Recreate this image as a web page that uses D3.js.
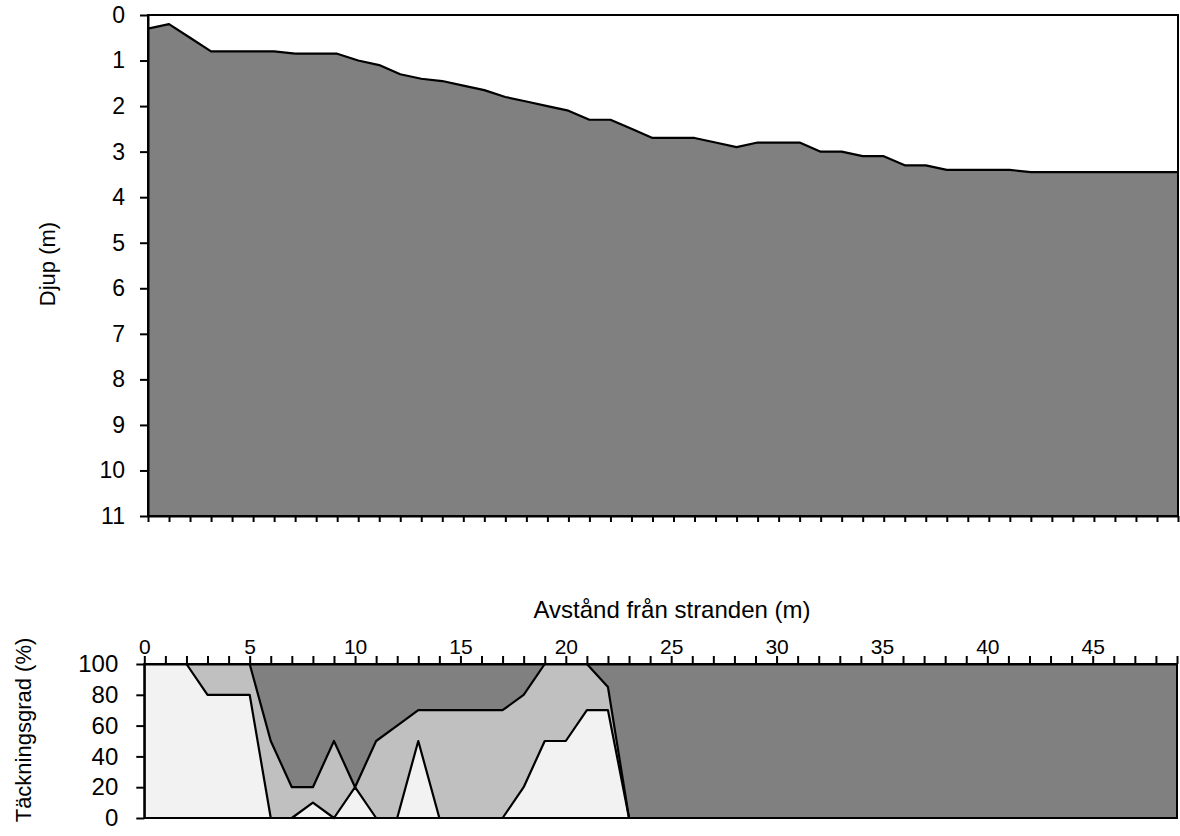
<!DOCTYPE html>
<html>
<head>
<meta charset="utf-8">
<script src="https://cdn.jsdelivr.net/npm/d3@7"></script>
<style>
    body { margin: 0; background: #fff; }
    svg { display: block; font-family: "Liberation Sans", Arial, sans-serif; }
</style>
</head>
<body>
<svg id="chart"></svg>
<script>
// distance from shore (m), one category per metre
const distance = [0, 1, 2, 3, 4, 5, 6, 7, 8, 9, 10, 11, 12, 13, 14, 15, 16, 17, 18, 19,
    20, 21, 22, 23, 24, 25, 26, 27, 28, 29, 30, 31, 32, 33, 34, 35, 36, 37, 38, 39,
    40, 41, 42, 43, 44, 45, 46, 47, 48, 49];

// depth (m) along the transect
const depth = [0.3, 0.2, 0.5, 0.8, 0.8, 0.8, 0.8, 0.85, 0.85, 0.85,
    1.0, 1.1, 1.3, 1.4, 1.45, 1.55, 1.65, 1.8, 1.9, 2.0,
    2.1, 2.3, 2.3, 2.5, 2.7, 2.7, 2.7, 2.8, 2.9, 2.8,
    2.8, 2.8, 3.0, 3.0, 3.1, 3.1, 3.3, 3.3, 3.4, 3.4,
    3.4, 3.4, 3.45, 3.45, 3.45, 3.45, 3.45, 3.45, 3.45, 3.45];

// coverage (%) per class, stacked to 100
const coverLight = [100, 100, 100, 80, 80, 80, 0, 0, 10, 0,
    20, 0, 0, 50, 0, 0, 0, 0, 20, 50,
    50, 70, 70, 0, 0, 0, 0, 0, 0, 0,
    0, 0, 0, 0, 0, 0, 0, 0, 0, 0,
    0, 0, 0, 0, 0, 0, 0, 0, 0, 0];
const coverMedium = [0, 0, 0, 20, 20, 20, 50, 20, 10, 50,
    0, 50, 60, 20, 70, 70, 70, 70, 60, 50,
    50, 30, 15, 0, 0, 0, 0, 0, 0, 0,
    0, 0, 0, 0, 0, 0, 0, 0, 0, 0,
    0, 0, 0, 0, 0, 0, 0, 0, 0, 0];
const coverDark = [0, 0, 0, 0, 0, 0, 50, 80, 80, 50,
    80, 50, 40, 30, 30, 30, 30, 30, 20, 0,
    0, 0, 15, 100, 100, 100, 100, 100, 100, 100,
    100, 100, 100, 100, 100, 100, 100, 100, 100, 100,
    100, 100, 100, 100, 100, 100, 100, 100, 100, 100];

const depthTicks = [0, 1, 2, 3, 4, 5, 6, 7, 8, 9, 10, 11];
const coverTicks = [0, 20, 40, 60, 80, 100];
const distanceLabels = [0, 5, 10, 15, 20, 25, 30, 35, 40, 45];

const seriesKeys = ['light', 'medium', 'dark'];
const seriesColors = {light: '#f2f2f2', medium: '#c0c0c0', dark: '#808080'};

(function () {
    const svg = d3.select('#chart')
        .attr('width', 1180)
        .attr('height', 836);

    function styleAxis(g, fontSize) {
        g.selectAll('path, line').attr('stroke', '#000').attr('stroke-width', 2);
        g.selectAll('text').attr('fill', '#000').style('font-size', fontSize + 'px')
            .style('font-family', '"Liberation Sans", Arial, sans-serif');
    }

    // ---- depth profile ----
    const x1 = d3.scaleLinear().domain([0, 49]).range([148, 1178]);
    const y1 = d3.scaleLinear().domain([0, 11]).range([15, 516]);

    svg.append('path')
        .datum(distance)
        .attr('fill', '#808080')
        .attr('d', d3.area()
            .x(i => x1(distance[i]))
            .y0(y1(11))
            .y1(i => y1(depth[i])));

    svg.append('path')
        .datum(distance)
        .attr('fill', 'none')
        .attr('stroke', '#000')
        .attr('stroke-width', 2.2)
        .attr('stroke-linejoin', 'round')
        .attr('d', d3.line()
            .x(i => x1(distance[i]))
            .y(i => y1(depth[i])));

    svg.append('rect')
        .attr('x', 148).attr('y', 15)
        .attr('width', 1030).attr('height', 501)
        .attr('fill', 'none').attr('stroke', '#000').attr('stroke-width', 2);

    svg.append('g')
        .attr('transform', 'translate(148,0)')
        .call(d3.axisLeft(y1).tickValues(depthTicks).tickSize(8).tickSizeOuter(0).tickPadding(15))
        .call(g => styleAxis(g, 23));

    svg.append('g')
        .attr('transform', 'translate(0,516)')
        .call(d3.axisBottom(x1).tickValues(distance).tickSize(6).tickSizeOuter(0).tickFormat(''))
        .call(g => styleAxis(g, 20));

    svg.append('text')
        .attr('transform', 'translate(55,264) rotate(-90)')
        .attr('text-anchor', 'middle')
        .style('font-size', '22px')
        .text('Djup (m)');

    // ---- coverage ----
    const x2 = d3.scaleLinear().domain([0, 49]).range([144.3, 1177]);
    const y2 = d3.scaleLinear().domain([0, 100]).range([818, 664]);

    const table = distance.map((d, i) => ({
        distance: d,
        light: coverLight[i],
        medium: coverMedium[i],
        dark: coverDark[i]
    }));
    const stacked = d3.stack().keys(seriesKeys)(table);

    svg.selectAll('path.cover')
        .data(stacked)
        .enter()
        .append('path')
        .attr('class', 'cover')
        .attr('fill', s => seriesColors[s.key])
        .attr('d', d3.area()
            .x(p => x2(p.data.distance))
            .y0(p => y2(p[0]))
            .y1(p => y2(p[1])));

    svg.selectAll('path.coverline')
        .data(stacked)
        .enter()
        .append('path')
        .attr('class', 'coverline')
        .attr('fill', 'none')
        .attr('stroke', '#000')
        .attr('stroke-width', 2.2)
        .attr('stroke-linejoin', 'round')
        .attr('d', d3.line()
            .x(p => x2(p.data.distance))
            .y(p => y2(p[1])));

    svg.append('rect')
        .attr('x', 144.3).attr('y', 664)
        .attr('width', 1177 - 144.3).attr('height', 154)
        .attr('fill', 'none').attr('stroke', '#000').attr('stroke-width', 2);

    svg.append('g')
        .attr('transform', 'translate(144.3,0)')
        .call(d3.axisLeft(y2).tickValues(coverTicks).tickSize(8).tickSizeOuter(0).tickPadding(18))
        .call(g => styleAxis(g, 24));

    svg.append('g')
        .attr('transform', 'translate(0,664)')
        .call(d3.axisTop(x2).tickValues(distance).tickSize(8).tickSizeOuter(0).tickPadding(2)
            .tickFormat(d => distanceLabels.includes(d) ? d : ''))
        .call(g => styleAxis(g, 21));

    svg.append('text')
        .attr('x', 672).attr('y', 618)
        .attr('text-anchor', 'middle')
        .style('font-size', '24px')
        .text('Avstånd från stranden (m)');

    svg.append('text')
        .attr('transform', 'translate(31,730) rotate(-90)')
        .attr('text-anchor', 'middle')
        .style('font-size', '22px')
        .text('Täckningsgrad (%)');
})();
</script>
</body>
</html>
